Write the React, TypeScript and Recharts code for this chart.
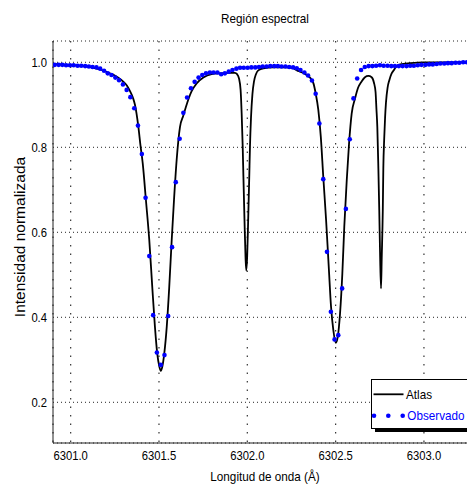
import React from "react";
import {
  ComposedChart,
  Line,
  Scatter,
  XAxis,
  YAxis,
  CartesianGrid,
} from "recharts";

// Atlas spectrum (black line)
const atlasWave = [
  6300.90, 6300.939, 6300.996, 6301.070, 6301.121, 6301.166, 6301.206, 6301.240, 6301.268, 6301.296,
  6301.319, 6301.336, 6301.353, 6301.364, 6301.383, 6301.395, 6301.408, 6301.426, 6301.445, 6301.462,
  6301.477, 6301.490, 6301.502, 6301.510, 6301.519, 6301.530, 6301.544, 6301.558, 6301.572, 6301.585,
  6301.600, 6301.619, 6301.638, 6301.660, 6301.685, 6301.713, 6301.751, 6301.798, 6301.845, 6301.891,
  6301.930, 6301.942, 6301.953, 6301.962, 6301.968, 6301.974, 6301.978, 6301.984, 6301.990, 6301.994,
  6301.999, 6302.005, 6302.011, 6302.015, 6302.021, 6302.029, 6302.038, 6302.049, 6302.062, 6302.091,
  6302.146, 6302.225, 6302.259, 6302.281, 6302.298, 6302.321, 6302.344, 6302.355, 6302.374, 6302.387,
  6302.402, 6302.416, 6302.430, 6302.446, 6302.461, 6302.474, 6302.487, 6302.501, 6302.512, 6302.525,
  6302.538, 6302.549, 6302.563, 6302.576, 6302.591, 6302.610, 6302.627, 6302.647, 6302.666, 6302.685,
  6302.704, 6302.717, 6302.726, 6302.731, 6302.736, 6302.742, 6302.747, 6302.752, 6302.757, 6302.761,
  6302.767, 6302.770, 6302.775, 6302.780, 6302.785, 6302.794, 6302.804, 6302.816, 6302.827, 6302.842,
  6302.865, 6302.922, 6302.995, 6303.091, 6303.289,
];
const atlasInt = [
  0.996, 0.995, 0.994, 0.991, 0.988, 0.983, 0.977, 0.971, 0.964, 0.955,
  0.945, 0.932, 0.916, 0.900, 0.849, 0.805, 0.762, 0.676, 0.582, 0.471,
  0.378, 0.315, 0.284, 0.274, 0.284, 0.315, 0.378, 0.471, 0.582, 0.676,
  0.770, 0.848, 0.875, 0.905, 0.932, 0.950, 0.964, 0.972, 0.974, 0.975,
  0.975, 0.972, 0.962, 0.935, 0.880, 0.800, 0.730, 0.630, 0.540, 0.510,
  0.540, 0.630, 0.730, 0.800, 0.870, 0.925, 0.955, 0.972, 0.981, 0.986,
  0.988, 0.988, 0.986, 0.981, 0.978, 0.974, 0.968, 0.964, 0.951, 0.927,
  0.888, 0.825, 0.731, 0.629, 0.519, 0.425, 0.370, 0.340, 0.354, 0.409,
  0.503, 0.613, 0.723, 0.809, 0.880, 0.915, 0.940, 0.955, 0.965, 0.968,
  0.965, 0.952, 0.930, 0.890, 0.848, 0.750, 0.652, 0.540, 0.468, 0.540,
  0.652, 0.750, 0.820, 0.870, 0.905, 0.940, 0.958, 0.973, 0.980, 0.989,
  0.995, 0.998, 1.000, 1.000, 1.000,
];

// Observed spectrum (blue dots)
const obsWave = [
  6300.910, 6300.932, 6300.953, 6300.974, 6300.996, 6301.017, 6301.039, 6301.060, 6301.082, 6301.103,
  6301.124, 6301.146, 6301.167, 6301.189, 6301.210, 6301.231, 6301.253, 6301.274, 6301.296, 6301.317,
  6301.338, 6301.360, 6301.381, 6301.403, 6301.424, 6301.445, 6301.467, 6301.488, 6301.510, 6301.531,
  6301.552, 6301.574, 6301.595, 6301.617, 6301.638, 6301.659, 6301.681, 6301.702, 6301.724, 6301.745,
  6301.766, 6301.788, 6301.809, 6301.831, 6301.852, 6301.873, 6301.895, 6301.916, 6301.938, 6301.959,
  6301.980, 6302.002, 6302.023, 6302.045, 6302.066, 6302.087, 6302.109, 6302.130, 6302.152, 6302.173,
  6302.194, 6302.216, 6302.237, 6302.259, 6302.280, 6302.301, 6302.323, 6302.344, 6302.366, 6302.387,
  6302.408, 6302.430, 6302.451, 6302.473, 6302.494, 6302.515, 6302.537, 6302.558, 6302.580, 6302.601,
  6302.622, 6302.644, 6302.665, 6302.687, 6302.708, 6302.729, 6302.751, 6302.772, 6302.794, 6302.815,
  6302.836, 6302.858, 6302.879, 6302.901, 6302.922, 6302.943, 6302.965, 6302.986, 6303.008, 6303.029,
  6303.050, 6303.072, 6303.093, 6303.115, 6303.136, 6303.157, 6303.179, 6303.200, 6303.222, 6303.243,
  6303.264, 6303.286,
];
const obsInt = [
  0.994, 0.994, 0.994, 0.993, 0.993, 0.993, 0.992, 0.992, 0.991, 0.990,
  0.989, 0.988, 0.985, 0.980, 0.974, 0.970, 0.964, 0.958, 0.948, 0.935,
  0.918, 0.892, 0.851, 0.784, 0.681, 0.544, 0.405, 0.317, 0.288, 0.311,
  0.403, 0.565, 0.718, 0.820, 0.881, 0.917, 0.939, 0.954, 0.964, 0.970,
  0.974, 0.976, 0.976, 0.976, 0.972, 0.974, 0.978, 0.982, 0.985, 0.987,
  0.987, 0.987, 0.988, 0.988, 0.989, 0.990, 0.990, 0.991, 0.991, 0.991,
  0.990, 0.990, 0.989, 0.988, 0.986, 0.982, 0.976, 0.969, 0.957, 0.926,
  0.856, 0.725, 0.554, 0.413, 0.348, 0.358, 0.468, 0.655, 0.819, 0.915,
  0.962, 0.982, 0.989, 0.991, 0.991, 0.992, 0.993, 0.992, 0.992, 0.991,
  0.991, 0.991, 0.991, 0.991, 0.992, 0.992, 0.993, 0.994, 0.994, 0.995,
  0.995, 0.996, 0.997, 0.997, 0.998, 0.998, 0.999, 0.999, 1.000, 1.000,
  1.000, 1.000,
];

const xTicks = [6301.0, 6301.5, 6302.0, 6302.5, 6303.0];
const yTicks = [0.2, 0.4, 0.6, 0.8, 1.0];

const atlasData = atlasWave.map((x, i) => ({ x, y: atlasInt[i] }));
const obsData = obsWave.map((x, i) => ({ x, y: obsInt[i] }));

const FONT = '"Liberation Sans", Arial, Helvetica, sans-serif';
const BLUE = "#0000ff";
const PLOT_BOTTOM = 443;

const XTick = (props: any) => {
  const { x, payload } = props;
  return (
    <text
      transform={`translate(${x},${PLOT_BOTTOM + 17}) scale(0.9,1)`}
      textAnchor="middle"
      fontSize={12.5}
      fontFamily={FONT}
      fill="#000"
    >
      {Number(payload.value).toFixed(1)}
    </text>
  );
};

const YTick = (props: any) => {
  const { y, payload } = props;
  return (
    <text
      transform={`translate(47,${y + 4.5}) scale(0.9,1)`}
      textAnchor="end"
      fontSize={12.5}
      fontFamily={FONT}
      fill="#000"
    >
      {Number(payload.value).toFixed(1)}
    </text>
  );
};

const Dot = (props: any) => {
  const { cx, cy } = props;
  if (cx === undefined || cy === undefined) return null;
  return <circle cx={cx} cy={cy} r={2.3} fill={BLUE} />;
};

export default function App() {
  return (
    <div
      style={{
        position: "fixed",
        left: 0,
        top: 0,
        width: 467,
        height: 486,
        overflow: "hidden",
        background: "#fff",
        fontFamily: FONT,
      }}
    >
      <ComposedChart
        width={480}
        height={486}
        margin={{ top: 41, right: 5, bottom: 0, left: 13 }}
      >
        {/* horizontal dotted grid: fine dots; vertical: wider spacing */}
        <CartesianGrid vertical={false} stroke="#222" strokeDasharray="1 3" strokeWidth={1} />
        <CartesianGrid horizontal={false} stroke="#333" strokeDasharray="1.5 7" strokeWidth={1.2} />
        <XAxis
          dataKey="x"
          type="number"
          domain={[6300.9, 6303.289]}
          allowDataOverflow
          ticks={xTicks}
          interval={0}
          tick={<XTick />}
          tickLine={false}
          height={43}
          stroke="#222"
        />
        <XAxis
          xAxisId="top"
          orientation="top"
          type="number"
          domain={[6300.9, 6303.289]}
          tick={false}
          tickLine={false}
          height={0}
          stroke="#222"
        />
        <YAxis
          dataKey="y"
          type="number"
          domain={[0.1042, 1.0501]}
          allowDataOverflow
          ticks={yTicks}
          interval={0}
          tick={<YTick />}
          tickLine={false}
          width={40}
          stroke="#222"
        />
        <Line
          data={atlasData}
          dataKey="y"
          type="monotone"
          stroke="#000"
          strokeWidth={1.8}
          dot={false}
          isAnimationActive={false}
        />
        <Scatter
          data={obsData}
          dataKey="y"
          fill={BLUE}
          shape={<Dot />}
          isAnimationActive={false}
        />
      </ComposedChart>

      <div
        style={{
          position: "absolute",
          left: 0,
          width: 530,
          top: 11,
          textAlign: "center",
          fontSize: 13,
          transform: "scaleX(0.9)",
          color: "#000",
          whiteSpace: "nowrap",
        }}
      >
        Región espectral
      </div>

      <div
        style={{
          position: "absolute",
          left: 165,
          width: 200,
          top: 469,
          textAlign: "center",
          fontSize: 13,
          transform: "scaleX(0.9)",
          color: "#000",
          whiteSpace: "nowrap",
        }}
      >
        Longitud de onda (Å)
      </div>

      <div
        style={{
          position: "absolute",
          left: 20,
          top: 237,
          transform: "translate(-50%,-50%) rotate(-90deg)",
          fontSize: 15.5,
          color: "#000",
          whiteSpace: "nowrap",
        }}
      >
        Intensidad normalizada
      </div>

      <div
        style={{
          position: "absolute",
          left: 371,
          top: 379,
          width: 110,
          height: 50,
          border: "1px solid #000",
          background: "#fff",
          boxShadow: "4px 3px 0 #000",
          boxSizing: "border-box",
        }}
      >
        <svg width={110} height={50} style={{ position: "absolute", left: -1, top: -1 }}>
          <line x1={2.5} y1={15.3} x2={32.5} y2={15.3} stroke="#000" strokeWidth={1.8} />
          <text x={35} y={20} fontSize={13} fontFamily={FONT} fill="#000" transform="translate(35,0) scale(0.9,1) translate(-35,0)">
            Atlas
          </text>
          <circle cx={3} cy={36.7} r={2.3} fill={BLUE} />
          <circle cx={17.3} cy={36.7} r={2.3} fill={BLUE} />
          <circle cx={31.7} cy={36.7} r={2.3} fill={BLUE} />
          <text x={36.3} y={41.4} fontSize={13} fontFamily={FONT} fill={BLUE} transform="translate(36.3,0) scale(0.9,1) translate(-36.3,0)">
            Observado
          </text>
        </svg>
      </div>
    </div>
  );
}
